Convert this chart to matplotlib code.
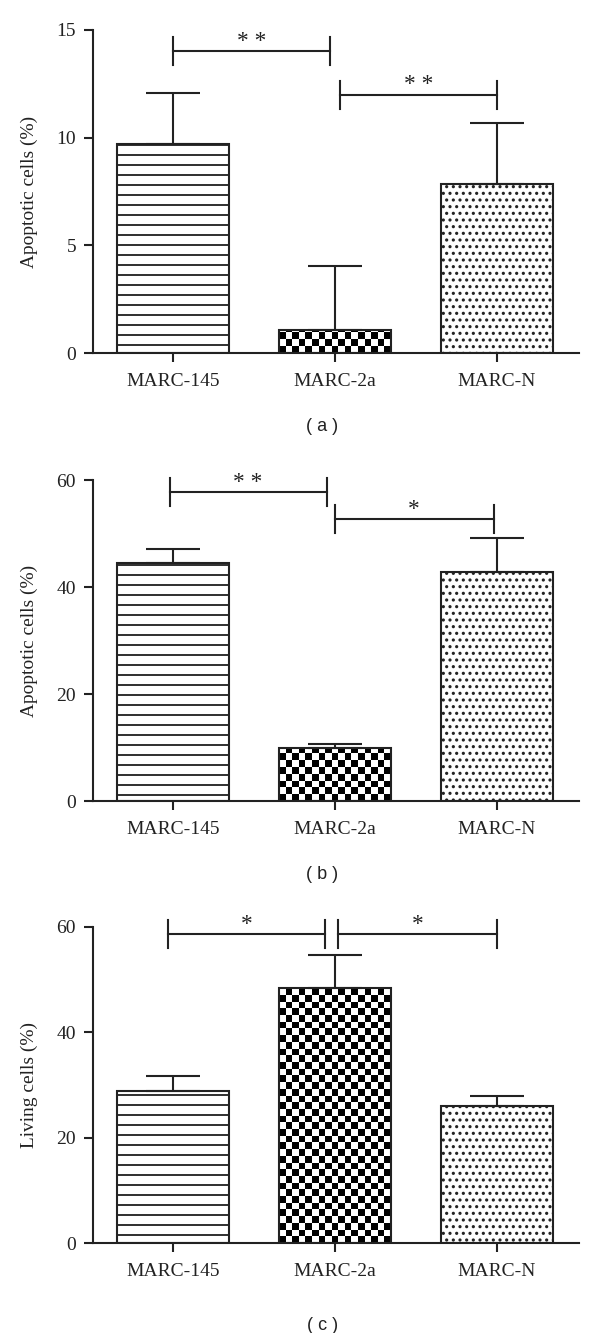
import numpy as np
import matplotlib
matplotlib.use("Agg")
import matplotlib.pyplot as plt

# Data
GROUPS = ["MARC-145", "MARC-2a", "MARC-N"]

APOPT_A = [9.72, 1.07, 7.86]
ERR_A = [2.36, 2.97, 2.82]

APOPT_B = [44.5, 9.96, 42.9]
ERR_B = [2.7, 0.81, 6.4]

LIVING_C = [28.8, 48.3, 25.96]
ERR_C = [2.96, 6.27, 2.0]

# brackets: (x from, x to, y, stars)
SIG_A = [(0.0, 0.97, 14.03, "* *"), (1.03, 2.0, 12.0, "* *")]
SIG_B = [(-0.02, 0.95, 57.8, "* *"), (1.0, 1.98, 52.8, "*")]
SIG_C = [(-0.03, 0.94, 58.6, "*"), (1.02, 2.0, 58.6, "*")]

YTICKS_A = [0, 5, 10, 15]
YTICKS_BC = [0, 20, 40, 60]

# Style
INK = "#222222"
SERIF = "Liberation Serif"
SANS = "Liberation Sans"
BAR_W = 0.69
CELL = 6.7  # checker square, px

plt.rcParams["hatch.linewidth"] = 1.1
plt.rcParams["font.family"] = SERIF


def checker(ax, bar):
    x0, y0 = bar.get_x(), bar.get_y()
    x1, y1 = x0 + bar.get_width(), y0 + bar.get_height()
    p0 = ax.transData.transform((x0, y0))
    p1 = ax.transData.transform((x1, y1))
    ncols = max(1, int(round((p1[0] - p0[0]) / CELL)))
    nrows = int(np.ceil((p1[1] - p0[1]) / CELL))
    dy = CELL * (y1 - y0) / (p1[1] - p0[1])
    board = np.indices((nrows, ncols)).sum(axis=0) % 2
    im = ax.imshow(board, cmap="gray", vmin=0, vmax=1, origin="lower",
                   extent=(x0, x1, y0, y0 + nrows * dy), aspect="auto",
                   interpolation="nearest", zorder=1)
    im.set_clip_path(bar)


def panel(ax, values, errs, yticks, ylabel, sig, caption, tick_h, cap_y):
    x = np.arange(len(GROUPS))
    ax.set_xlim(-0.494, 2.509)
    ax.set_ylim(0, yticks[-1])

    bars = ax.bar(x, values, width=BAR_W, color="white", edgecolor=INK,
                  linewidth=1.25, zorder=2)
    bars[0].set_hatch("--")
    bars[1].set_facecolor("none")
    bars[2].set_hatch("...")
    checker(ax, bars[1])
    ax.set_xlim(-0.494, 2.509)
    ax.set_ylim(0, yticks[-1])

    ax.errorbar(x, values, yerr=[np.zeros(len(errs)), errs], fmt="none",
                ecolor=INK, elinewidth=1.25, capsize=16, capthick=1.25, zorder=3)

    for x1, x2, y, stars in sig:
        ax.plot([x1, x2], [y, y], color=INK, lw=1.25, clip_on=False)
        for xe in (x1, x2):
            ax.plot([xe, xe], [y - tick_h, y + tick_h], color=INK, lw=1.25,
                    clip_on=False)
        ax.annotate(stars, ((x1 + x2) / 2, y), xytext=(0, 2.5),
                    textcoords="offset points", ha="center", va="baseline",
                    fontsize=14, color=INK, annotation_clip=False)

    for s in ["top", "right"]:
        ax.spines[s].set_visible(False)
    for s in ["left", "bottom"]:
        ax.spines[s].set_linewidth(1.25)
        ax.spines[s].set_color(INK)

    ax.set_xticks(x)
    ax.set_xticklabels(GROUPS)
    ax.set_yticks(yticks)
    ax.tick_params(axis="x", length=5.4, width=1.25, pad=6.6, color=INK,
                   labelsize=11.7, labelcolor=INK)
    ax.tick_params(axis="y", length=5.4, width=1.25, pad=4.6, color=INK,
                   labelsize=11.7, labelcolor=INK)
    ax.set_ylabel(ylabel, fontsize=11.6, color=INK)
    ax.yaxis.set_label_coords(-0.113, 0.5)

    ax.text(0.472, cap_y, caption, transform=ax.transAxes, ha="center",
            va="center", family=SANS, fontsize=10.8, color=INK)


fig = plt.figure(figsize=(5, 1333 / 120), dpi=120)

ax_a = fig.add_axes([0.1545, 0.7350, 0.811, 0.2425])
ax_b = fig.add_axes([0.1545, 0.3989, 0.811, 0.2408])
ax_c = fig.add_axes([0.1545, 0.0673, 0.811, 0.2375])

panel(ax_a, APOPT_A, ERR_A, YTICKS_A, "Apoptotic cells (%)", SIG_A, "( a )", 0.65, -0.228)
panel(ax_b, APOPT_B, ERR_B, YTICKS_BC, "Apoptotic cells (%)", SIG_B, "( b )", 2.65, -0.229)
panel(ax_c, LIVING_C, ERR_C, YTICKS_BC, "Living cells (%)", SIG_C, "( c )", 2.7, -0.259)

fig.savefig("out.png", dpi=120, facecolor="white")
